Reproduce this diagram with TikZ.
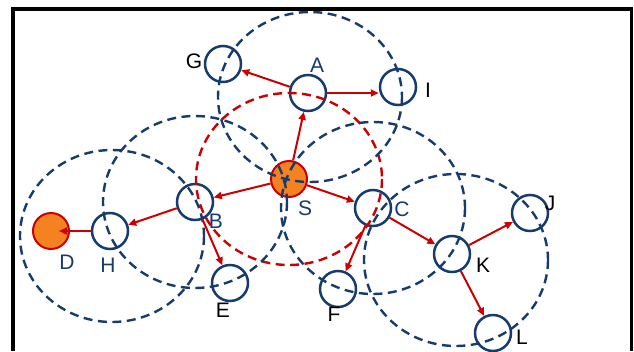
\documentclass[tikz,border=0pt]{standalone}
\usepackage{fontspec}
\setmainfont{Liberation Sans}
\usepackage{tikz}
\usetikzlibrary{arrows.meta}
\definecolor{netblue}{RGB}{22,60,110}
\definecolor{netred}{RGB}{204,0,0}
\definecolor{netorange}{RGB}{245,130,32}

\begin{document}
\begin{tikzpicture}[x=1pt,y=-1pt,
  host/.style={circle,draw=netblue,line width=2.5pt,minimum size=36pt,inner sep=0pt},
  endhost/.style={circle,draw=netred,fill=netorange,line width=2pt,minimum size=36pt,inner sep=0pt},
  lbl/.style={font=\fontsize{21}{24}\selectfont,inner sep=0pt},
  radiorange/.style={netblue,line width=2.4pt,dash pattern=on 9pt off 5.5pt},
  hop/.style={netred,line width=2pt,-{Triangle[length=8pt,width=7pt]}}]
\useasboundingbox (0,0) rectangle (634,351);
\draw[line width=3.5pt] (13,351) -- (13,9) -- (631.5,9) -- (631.5,351);
% hosts
\node[endhost] (S) at (289,179) {};
\node[endhost] (D) at (51,231) {};
\node[host] (A) at (308,93) {};
\node[host] (G) at (223,64) {};
\node[host] (I) at (398,87) {};
\node[host] (B) at (195,202) {};
\node[host] (H) at (110,231) {};
\node[host] (E) at (230,283) {};
\node[host] (C) at (373,208) {};
\node[host] (F) at (338,289) {};
\node[host] (K) at (452,254) {};
\node[host] (J) at (530,213) {};
\node[host] (L) at (493,333) {};
% names
\node[lbl,text=netblue] (labS) at (305,208) {S};
\node[lbl,text=netblue] (labD) at (67,262) {D};
\node[lbl,text=netblue] (labA) at (317,65) {A};
\node[lbl] (labG) at (194,61) {G};
\node[lbl] (labI) at (428,90) {I};
\node[lbl,text=netblue] (labB) at (216,221) {B};
\node[lbl,text=netblue] (labH) at (108,265) {H};
\node[lbl] (labE) at (223,310) {E};
\node[lbl,text=netblue] (labC) at (402,209) {C};
\node[lbl] (labF) at (334,314) {F};
\node[lbl] (labK) at (483,265) {K};
\node[lbl] (labJ) at (550,203) {J};
\node[lbl] (labL) at (522,337) {L};
% radio ranges
\draw[radiorange,netred] (S.center) ellipse [x radius=93,y radius=86];
\draw[radiorange] ([shift={(2,4)}]A.center) ellipse [x radius=92,y radius=85];
\draw[radiorange] (B.center) ellipse [x radius=92,y radius=86];
\draw[radiorange] ([shift={(2,5)}]H.center) ellipse [x radius=92,y radius=86];
\draw[radiorange] (C.center) ellipse [x radius=92,y radius=86];
\draw[radiorange] ([shift={(4,6)}]K.center) ellipse [x radius=92,y radius=86];
% route requests
\draw[hop] (S) -- (A);
\draw[hop] (A) -- (G);
\draw[hop] (A.east) -- (A.east -| I.west);
\draw[hop] (S) -- (B);
\draw[hop] (S) -- (C);
\draw[hop] (B) -- (H);
\draw[hop,shorten >=-11pt] (H) -- (D);
\draw[hop] (B) -- (E);
\draw[hop] (C) -- (F);
\draw[hop] (C) -- (K);
\draw[hop] (K) -- (J);
\draw[hop] (K) -- (L);
\end{tikzpicture}
\end{document}
